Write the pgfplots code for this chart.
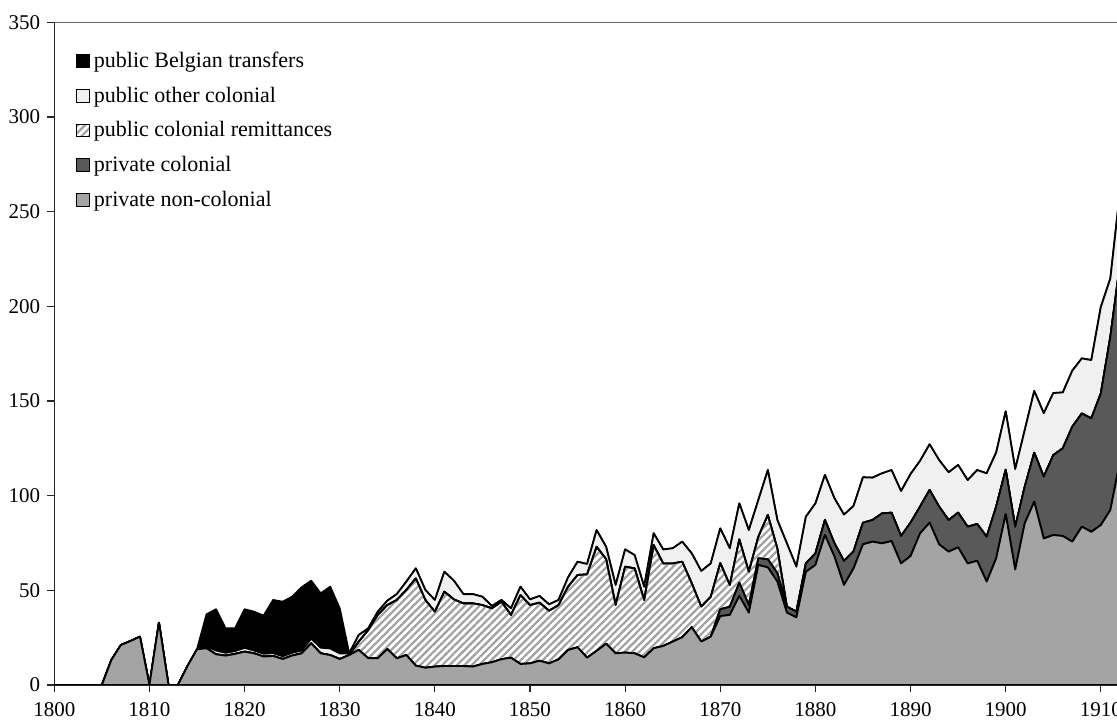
\documentclass[border=0pt]{standalone}
\usepackage{fontspec}
\setmainfont{Liberation Serif}
\usepackage{pgfplots}
\usepackage{pgfplotstable}
\pgfplotsset{compat=1.18}
\usetikzlibrary{patterns.meta}

\definecolor{nonCol}{HTML}{A4A4A4}
\definecolor{privCol}{HTML}{595959}
\definecolor{otherCol}{HTML}{F0F0F0}
\definecolor{hatchCol}{HTML}{A0A0A0}

% year, private non-colonial, private colonial, public colonial remittances,
% public other colonial, public Belgian transfers
\pgfplotstableread{
year A B C D E
1800 0 0 0 0 0
1801 0 0 0 0 0
1802 0 0 0 0 0
1803 0 0 0 0 0
1804 0 0 0 0 0
1805 0 0 0 0 0
1806 13.2 0 0 0 0
1807 21.1 0 0 0 0
1808 23.2 0 0 0 0
1809 25.5 0 0 0 0
1810 0 0 0 0 0
1811 32.9 0 0 0 0
1812 0 0 0 0 0
1813 0 0 0 0 0
1814 10.0 0 0 0 0
1815 18.8 0 0 0 0
1816 19.4 0 0 1.0 16.9
1817 16.2 0 0 2.0 21.8
1818 15.5 0 0 1.5 12.9
1819 16.4 0 0 1.5 12.0
1820 17.6 0 0 2.0 20.4
1821 16.7 0 0 1.5 20.5
1822 15.0 0 0 1.5 20.1
1823 15.3 0 0 1.5 28.1
1824 13.7 0 0 1.5 28.8
1825 15.5 0 0 1.5 29.6
1826 16.7 0 0 1.5 33.4
1827 22.0 0 0 2.5 30.6
1828 16.7 0 0 3.0 28.7
1829 15.8 0 0 3.5 32.6
1830 13.7 0 0 3.0 23.8
1831 15.8 0 0 0.9 0
1832 18.5 0 4.4 3.5 0
1833 14.1 0 14.9 0.9 0
1834 14.1 0 22.9 1.7 0
1835 19.0 0 23.2 2.3 0
1836 14.1 0 30.8 3.1 0
1837 15.8 0 34.4 4.4 0
1838 10.2 0 46.1 5.3 0
1839 9.1 0 35.8 5.3 0
1840 9.7 0 29.0 6.2 0
1841 10.0 0 39.3 10.5 0
1842 10.0 0 35.2 9.9 0
1843 10.0 0 33.1 4.9 0
1844 9.7 0 33.4 4.9 0
1845 11.1 0 31.1 4.4 0
1846 12.0 0 28.5 1.2 0
1847 13.6 0 30.4 0.9 0
1848 14.4 0 22.6 3.5 0
1849 11.1 0 36.4 4.4 0
1850 11.4 0 30.8 3.0 0
1851 12.8 0 30.7 3.5 0
1852 11.4 0 27.8 3.4 0
1853 13.5 0 28.7 2.7 0
1854 18.5 0 33.4 4.9 0
1855 19.9 0 38.2 7.0 0
1856 14.4 0 44.0 5.5 0
1857 18.0 0 55.0 8.8 0
1858 21.8 0 44.7 6.5 0
1859 16.7 0 25.6 10.5 0
1860 17.1 0 45.4 9.1 0
1861 16.7 0 44.9 7.0 0
1862 14.6 0 30.3 7.0 0
1863 19.4 0 54.5 6.2 0
1864 20.6 0 43.6 7.4 0
1865 22.9 0 41.3 8.0 0
1866 25.2 0 39.9 10.6 0
1867 30.5 0 23.2 15.8 0
1868 22.9 0 18.5 18.8 0
1869 25.5 0 21.1 17.6 0
1870 36.4 3.6 24.4 18.3 0
1871 37.0 4.3 11.5 19.4 0
1872 47.0 7.0 22.9 19.0 0
1873 38.2 4.0 17.6 22.0 0
1874 63.4 3.5 11.4 19.4 0
1875 62.1 4.3 23.4 23.7 0
1876 54.6 4.4 13.0 15.1 0
1877 38.2 3.2 0 33.4 0
1878 35.7 3.0 0 23.8 0
1879 59.8 4.4 0 24.7 0
1880 63.4 6.1 0 26.4 0
1881 79.2 7.9 0 23.8 0
1882 67.8 7.0 0 23.8 0
1883 52.8 12.7 0 24.5 0
1884 61.5 9.0 0 24.0 0
1885 74.3 11.4 0 24.0 0
1886 75.7 11.4 0 22.4 0
1887 74.8 15.8 0 21.2 0
1888 76.0 15.0 0 22.5 0
1889 64.2 14.5 0 23.7 0
1890 68.1 17.6 0 25.7 0
1891 80.1 14.1 0 24.2 0
1892 85.7 17.3 0 24.1 0
1893 74.3 19.9 0 24.6 0
1894 70.4 16.7 0 25.2 0
1895 72.7 18.3 0 25.2 0
1896 64.2 19.4 0 24.6 0
1897 65.6 19.4 0 28.5 0
1898 54.6 23.7 0 33.5 0
1899 66.9 27.3 0 28.6 0
1900 90.2 23.5 0 30.8 0
1901 61.0 22.5 0 30.5 0
1902 85.4 19.3 0 29.9 0
1903 96.8 25.9 0 32.6 0
1904 77.4 32.6 0 33.5 0
1905 79.2 42.2 0 32.8 0
1906 78.7 46.3 0 29.5 0
1907 75.7 60.7 0 29.6 0
1908 83.6 59.8 0 29.1 0
1909 80.9 59.9 0 30.8 0
1910 84.5 69.5 0 45.7 0
1911 92.4 91.5 0 30.8 0
1912 118.0 104.0 0 38.0 0
}\transfers

\begin{document}
\begin{tikzpicture}
\begin{axis}[
    scale only axis,
    width=531.35pt, height=331.35pt,
    xmin=1800, xmax=1911.7,
    ymin=0, ymax=350,
    xtick distance=10, ytick distance=50,
    axis lines*=left,
    axis line style={-, black!85, line width=0.6pt},
    tick align=outside,
    major tick length=3.5pt,
    tick style={black!85, line width=0.6pt},
    x tick label style={/pgf/number format/1000 sep={}, yshift=-1.5pt},
    /pgf/number format/assume math mode=true,
    tick label style={font=\fontsize{10.5}{12}\selectfont},
    stack plots=y,
    every axis plot/.append style={draw=black, line width=0.9pt, line join=round},
    reverse legend,
    legend cell align=left,
    legend style={draw=none, fill=none, at={(0.02,0.962)}, anchor=north west,
        font=\fontsize{11}{13}\selectfont, row sep=4.2pt, inner sep=0pt},
    legend image code/.code={
        \draw[#1, line width=0.5pt] (0pt,-3.2pt) rectangle (6.5pt,3.2pt);},
]
\addplot[fill=nonCol] table[x=year, y=A] {\transfers} \closedcycle;
\addlegendentry{private non-colonial}
\addplot[fill=privCol] table[x=year, y=B] {\transfers} \closedcycle;
\addlegendentry{private colonial}
\addplot[fill=white, postaction={pattern={Lines[angle=45, distance=2.6pt, line width=1.1pt]}, pattern color=hatchCol}] table[x=year, y=C] {\transfers} \closedcycle;
\addlegendentry{public colonial remittances}
\addplot[fill=otherCol] table[x=year, y=D] {\transfers} \closedcycle;
\addlegendentry{public other colonial}
\addplot[fill=black] table[x=year, y=E] {\transfers} \closedcycle;
\addlegendentry{public Belgian transfers}
\draw[black!60, line width=0.5pt] (rel axis cs:0,1) -- (rel axis cs:1,1);
\coordinate (ll) at (rel axis cs:0,0);
\coordinate (ur) at (rel axis cs:1,1);
\end{axis}
\pgfresetboundingbox
\path ([shift={(-27.15pt,-20pt)}]ll) rectangle ([shift={(0pt,11.15pt)}]ur);
\end{tikzpicture}
\end{document}
